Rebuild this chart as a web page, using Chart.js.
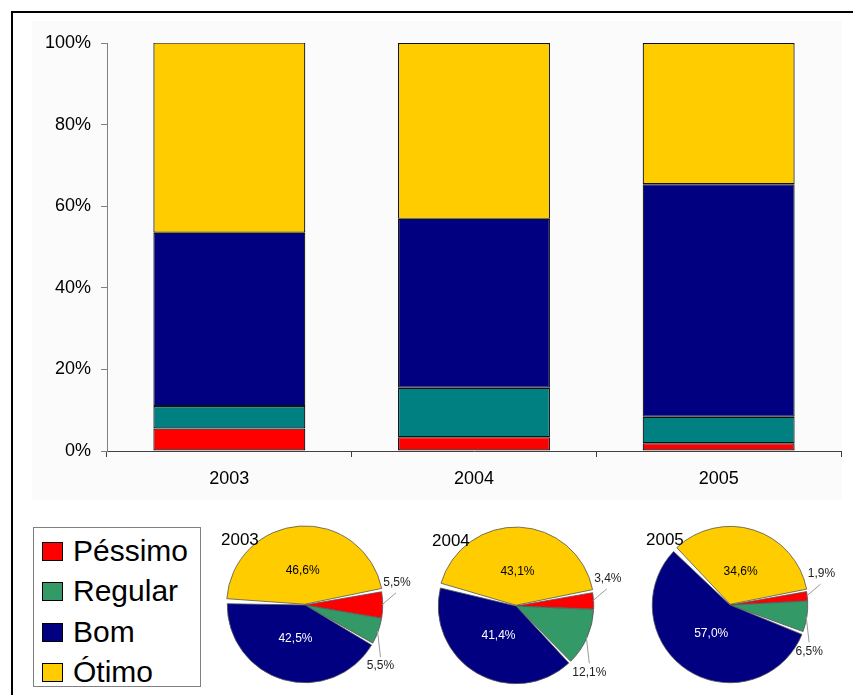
<!DOCTYPE html>
<html>
<head>
<meta charset="utf-8">
<script src="https://cdn.jsdelivr.net/npm/chart.js@4.4.1/dist/chart.umd.min.js"></script>
<style>
  body { margin: 0; width: 853px; height: 695px; background: #fff; overflow: hidden; position: relative; font-family: "Liberation Sans", Arial, sans-serif; }
  .frame { position: absolute; left: 11px; top: 11px; width: 900px; height: 800px; border: 2px solid #000; }
  .plotbg { position: absolute; left: 32px; top: 21px; width: 810px; height: 479px; background: #fbfbfb; }
  canvas { position: absolute; }
  #legend { position: absolute; left: 33px; top: 527px; width: 166px; height: 158px; border: 1px solid #808080; background: #fff; }
  #legend .item { position: absolute; left: 8px; height: 30px; display: flex; align-items: center; font-size: 30px; color: #000; white-space: nowrap; }
  #legend .sw { width: 19px; height: 17px; border: 1px solid #000; margin-right: 10px; flex: none; }
</style>
</head>
<body>
<div class="frame"></div>
<div class="plotbg"></div>
<canvas id="bars" width="853" height="510" style="left:0;top:0"></canvas>
<div id="legend"></div>
<canvas id="pie0" width="230" height="190" style="left:190px;top:510px"></canvas>
<canvas id="pie1" width="230" height="190" style="left:401px;top:511px"></canvas>
<canvas id="pie2" width="230" height="190" style="left:615px;top:510px"></canvas>

<script>
// avaliação por ano (%)
const years = ['2003', '2004', '2005'];
const categories = ['Péssimo', 'Regular', 'Bom', 'Ótimo'];
const pessimo = [5.5, 3.4, 1.9];
const regular = [5.5, 12.1, 6.5];
const bom = [42.5, 41.4, 57.0];
const otimo = [46.6, 43.1, 34.6];

const series = [pessimo, regular, bom, otimo];
const barColors = ['#ff0000', '#008080', '#000080', '#ffcc00'];
const pieColors = ['#ff0000', '#339966', '#000080', '#ffcc00'];
const FONT = '"Liberation Sans", Arial, sans-serif';

// --- stacked 100% bars ---
new Chart(document.getElementById('bars'), {
  type: 'bar',
  data: {
    labels: years,
    datasets: categories.map((name, i) => ({
      label: name,
      data: series[i],
      backgroundColor: barColors[i],
      borderColor: '#111',
      borderWidth: 1.2,
      borderSkipped: false,
      barPercentage: 0.621,
      categoryPercentage: 1
    }))
  },
  options: {
    responsive: false,
    animation: false,
    layout: { padding: { left: 0, right: 12, top: 43, bottom: 0 } },
    plugins: { legend: { display: false }, tooltip: { enabled: false } },
    scales: {
      x: {
        stacked: true,
        grid: { offset: true, drawOnChartArea: false, drawTicks: true, tickLength: 6, color: '#404040' },
        border: { color: '#404040', width: 1 },
        ticks: { color: '#000', font: { family: FONT, size: 18 }, padding: 11 },
        afterFit: s => { s.height = 59; }
      },
      y: {
        stacked: true,
        min: 0,
        max: 100,
        grid: { drawOnChartArea: false, drawTicks: true, tickLength: 6, color: '#808080' },
        border: { color: '#808080', width: 1 },
        ticks: { stepSize: 20, color: '#000', font: { family: FONT, size: 18 }, padding: 10, callback: v => v + '%' },
        afterFit: s => { s.width = 107; }
      }
    }
  }
});

// --- legend box ---
const legendEl = document.getElementById('legend');
const rowTops = [8, 48, 89, 129];
categories.forEach((name, i) => {
  const row = document.createElement('div');
  row.className = 'item';
  row.style.top = rowTops[i] + 'px';
  row.innerHTML = '<span class="sw" style="background:' + pieColors[i] + '"></span>' + name;
  legendEl.appendChild(row);
});

// --- pies ---
const fmt = v => v.toFixed(1).replace('.', ',') + '%';

const pieLabels = {
  id: 'pieLabels',
  afterDatasetsDraw(chart) {
    const ctx = chart.ctx;
    const arcs = chart.getDatasetMeta(0).data;
    const values = chart.data.datasets[0].data;
    ctx.save();
    ctx.font = '12px ' + FONT;
    ctx.textAlign = 'center';
    ctx.textBaseline = 'middle';
    arcs.forEach((arc, i) => {
      const { x, y, startAngle, endAngle, outerRadius } = arc.getProps(['x', 'y', 'startAngle', 'endAngle', 'outerRadius'], true);
      const mid = (startAngle + endAngle) / 2;
      const cos = Math.cos(mid), sin = Math.sin(mid);
      if (i >= 2) {
        const r = outerRadius * 0.45;
        ctx.fillStyle = i === 2 ? '#fff' : '#000';
        ctx.fillText(fmt(values[i]), x + cos * r, y + sin * r);
      } else {
        const ex = x + cos * outerRadius, ey = y + sin * outerRadius;
        const end = i === 0 ? [ex + 14, ey - 12] : [ex + 3, ey + 26];
        const lbl = i === 0 ? [ex + 15, ey - 22] : [ex + 3, ey + 35];
        ctx.strokeStyle = '#999';
        ctx.lineWidth = 1;
        ctx.beginPath();
        ctx.moveTo(ex, ey);
        ctx.lineTo(end[0], end[1]);
        ctx.stroke();
        ctx.fillStyle = '#222';
        ctx.fillText(fmt(values[i]), lbl[0], lbl[1]);
      }
    });
    // year caption
    const c = arcs[0];
    ctx.font = '17px ' + FONT;
    ctx.textAlign = 'left';
    ctx.fillStyle = '#000';
    ctx.fillText(chart.options.plugins.pieLabels.title, c.x - 84, c.y - 65);
    ctx.restore();
  }
};

years.forEach((year, k) => {
  new Chart(document.getElementById('pie' + k), {
    type: 'pie',
    data: {
      labels: categories,
      datasets: [{
        data: series.map(s => s[k]),
        backgroundColor: pieColors,
        borderColor: '#555',
        borderWidth: 0.8,
        offset: [0, 0, 0, 3]
      }]
    },
    options: {
      responsive: false,
      animation: false,
      radius: 77,
      rotation: 80,
      spacing: 1.5,
      layout: { padding: 0 },
      plugins: { legend: { display: false }, tooltip: { enabled: false }, pieLabels: { title: year } }
    },
    plugins: [pieLabels]
  });
});
</script>
</body>
</html>
